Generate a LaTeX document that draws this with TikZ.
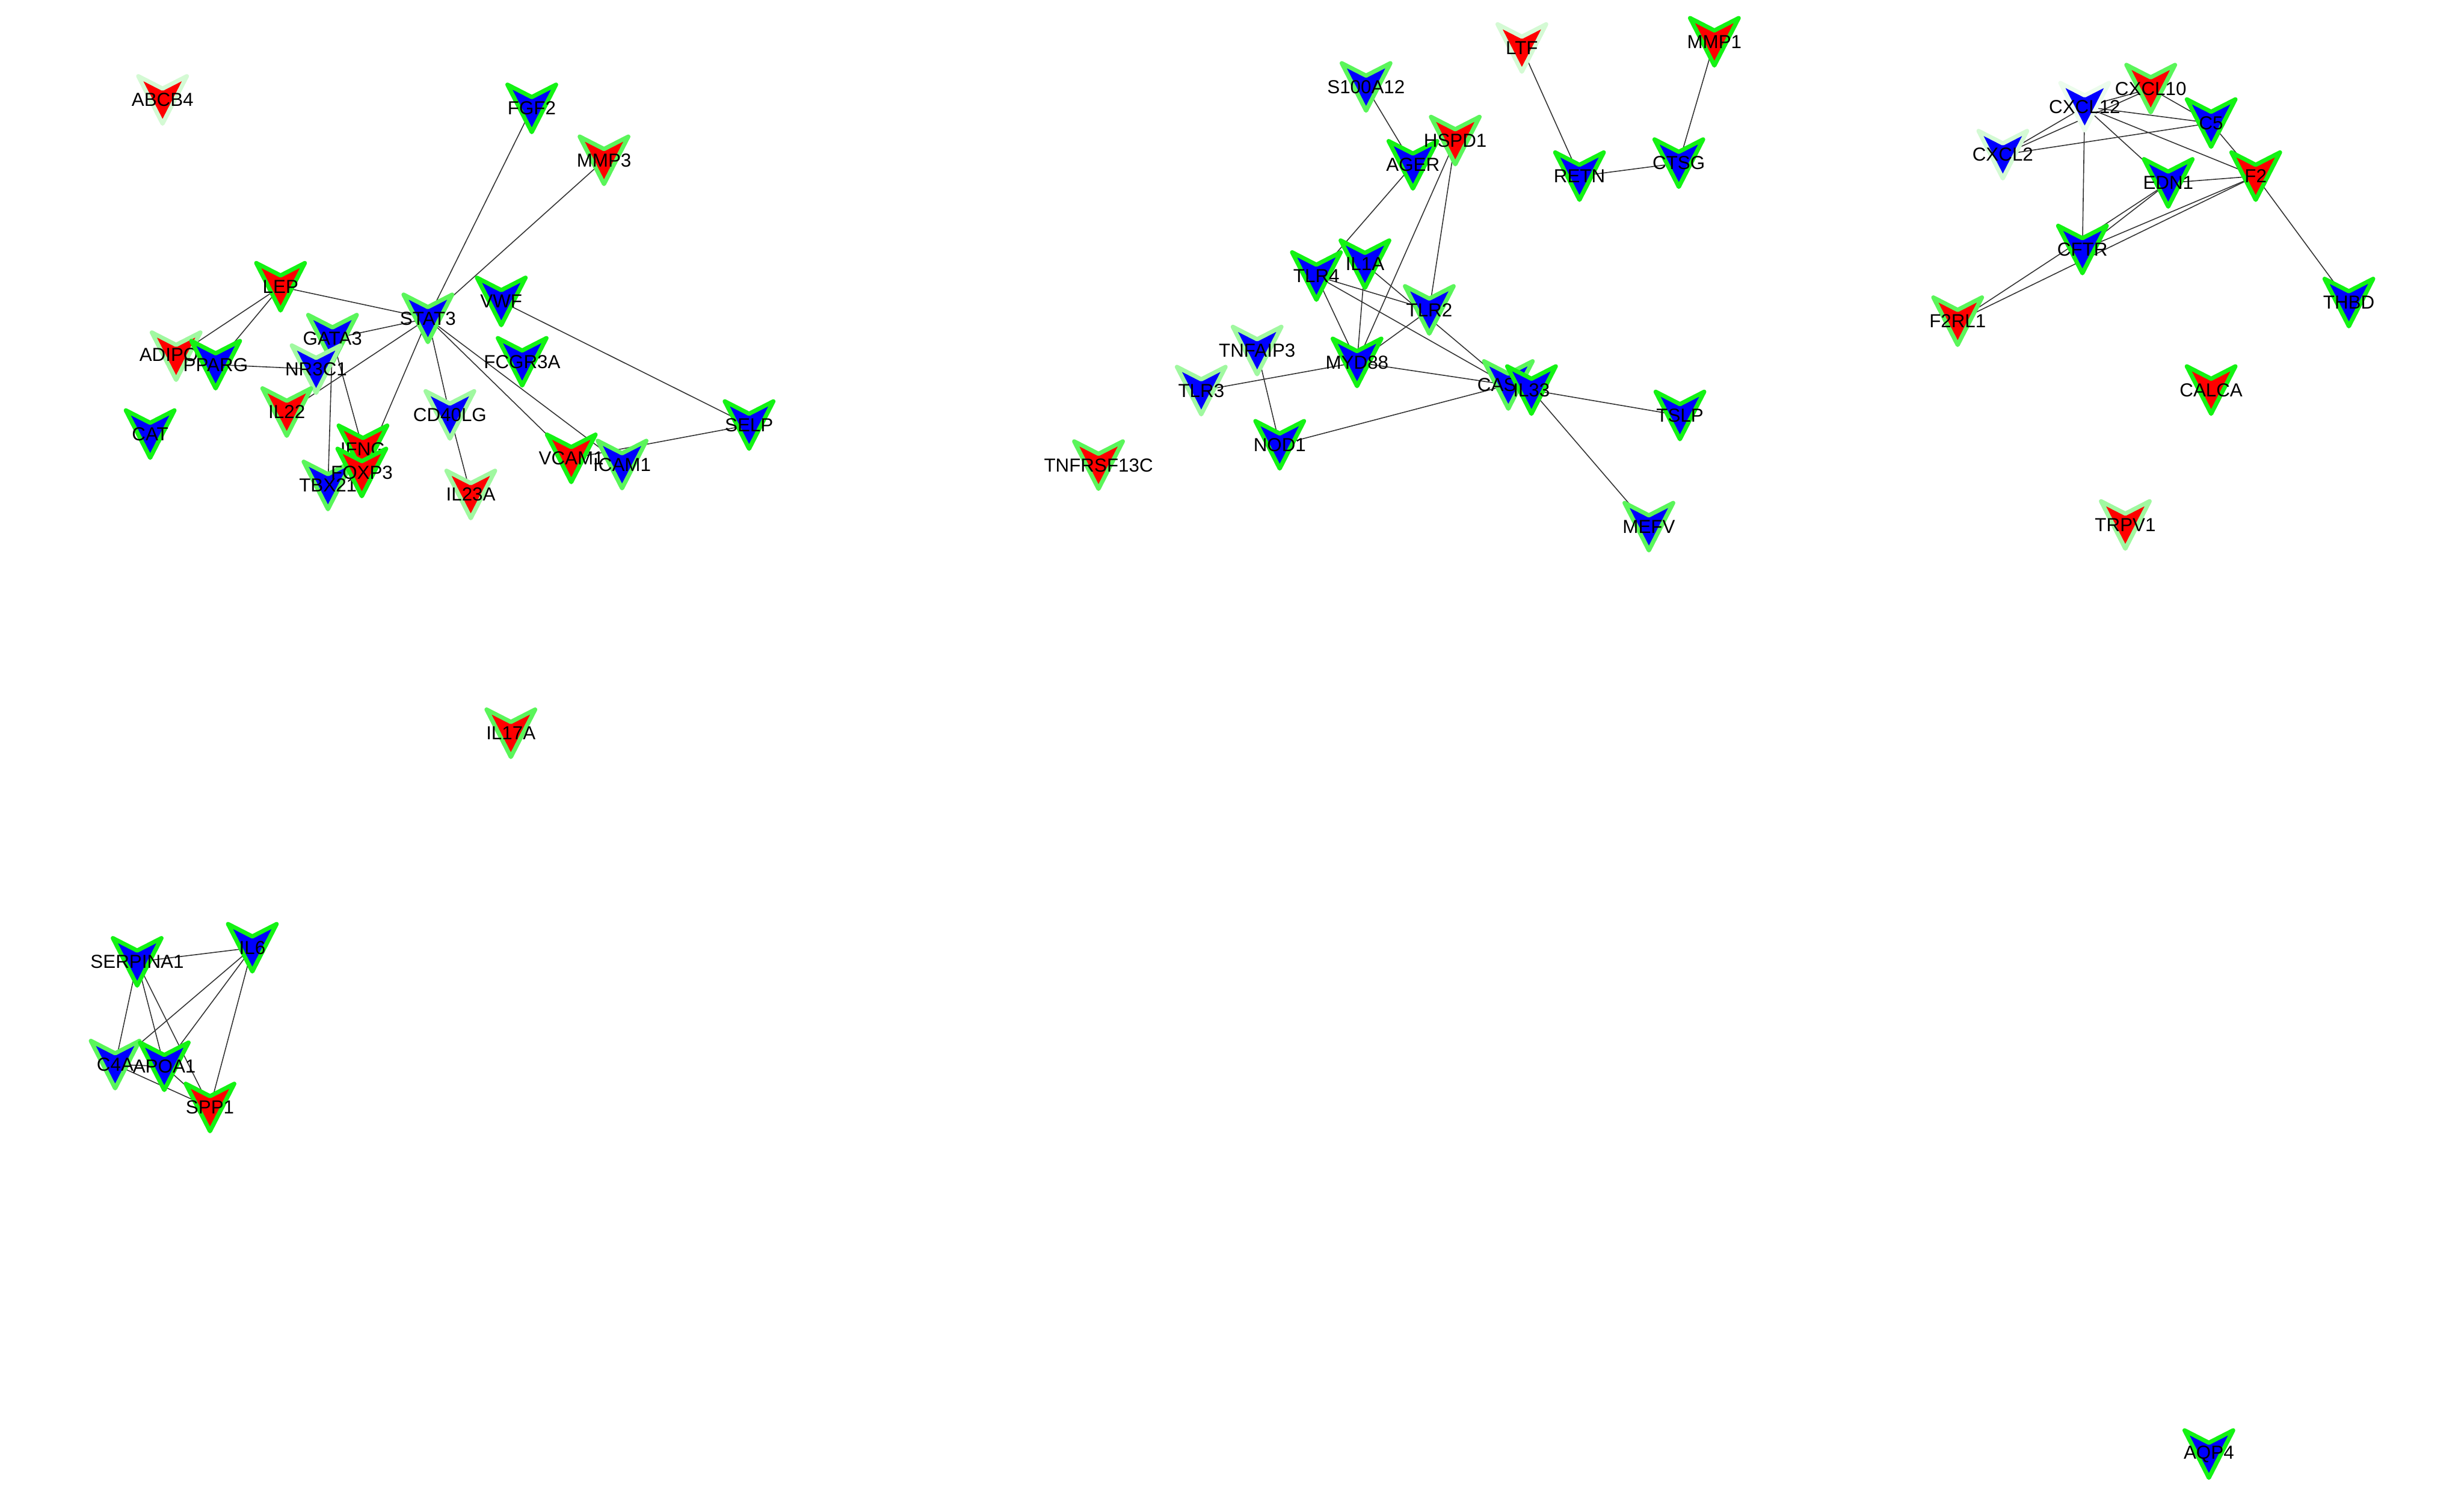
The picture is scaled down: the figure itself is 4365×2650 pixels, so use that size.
\documentclass[tikz,border=0pt]{standalone}
\usepackage{fontspec}
\setmainfont{Liberation Sans}
\usetikzlibrary{positioning}
\definecolor{rimhi}{RGB}{20,242,20}
\definecolor{rimmid}{RGB}{90,245,90}
\definecolor{rimlow}{RGB}{160,248,160}
\definecolor{rimpale}{RGB}{212,250,212}
\definecolor{rimwhite}{RGB}{236,252,236}
\definecolor{linkgray}{RGB}{52,52,52}
\tikzstyle{vee}=[line width=0.075cm,line join=round]
\tikzstyle{gname}=[inner sep=0pt,font=\fontsize{9.5}{11}\selectfont]
\tikzstyle{link}=[draw=linkgray,line width=0.017cm]
\pgfdeclarelayer{edges}
\pgfsetlayers{edges,main}
% chevron gene node: name, x, y, fill, rim
\newcommand{\gene}[5]{%
  \draw[vee,fill=#4,draw=#5] (#2,#3) ++(-43,-42) -- ++(43,22) -- ++(43,-22) -- ++(-43,84) -- cycle;
  \node[gname] (#1) at (#2,#3) {#1};}

\begin{document}
\begin{tikzpicture}[x=0.01cm,y=-0.01cm]
\useasboundingbox (0,0) rectangle (4365,2650);
% left network
\gene{ABCB4}{288}{177}{red}{rimpale}
\gene{FGF2}{942}{192}{blue}{rimhi}
\gene{MMP3}{1070}{284}{red}{rimmid}
\gene{LEP}{497}{508}{red}{rimhi}
\gene{STAT3}{758}{564}{blue}{rimmid}
\gene{VWF}{888}{534}{blue}{rimhi}
\gene{FCGR3A}{925}{641}{blue}{rimhi}
\gene{GATA3}{589}{600}{blue}{rimmid}
\gene{ADIPOQ}{312}{631}{red}{rimlow}
\gene{PPARG}{382}{646}{blue}{rimhi}
\gene{NR3C1}{560}{654}{blue}{rimlow}
\gene{IL22}{508}{730}{red}{rimmid}
\gene{CAT}{266}{769}{blue}{rimhi}
\gene{CD40LG}{797}{735}{blue}{rimlow}
\gene{IFNG}{643}{796}{red}{rimhi}
\gene{TBX21}{581}{860}{blue}{rimmid}
\gene{FOXP3}{641}{837}{red}{rimhi}
\gene{IL23A}{834}{876}{red}{rimlow}
\gene{VCAM1}{1012}{812}{red}{rimhi}
\gene{ICAM1}{1102}{823}{blue}{rimmid}
\gene{SELP}{1327}{753}{blue}{rimhi}
\gene{IL17A}{905}{1299}{red}{rimmid}
% middle network
\gene{S100A12}{2420}{154}{blue}{rimmid}
\gene{LTF}{2696}{85}{red}{rimpale}
\gene{MMP1}{3037}{74}{red}{rimhi}
\gene{AGER}{2503}{292}{blue}{rimhi}
\gene{HSPD1}{2578}{249}{red}{rimmid}
\gene{RETN}{2798}{312}{blue}{rimhi}
\gene{CTSG}{2974}{289}{blue}{rimhi}
\gene{IL1A}{2418}{468}{blue}{rimhi}
\gene{TLR4}{2332}{489}{blue}{rimhi}
\gene{TLR2}{2532}{549}{blue}{rimmid}
\gene{TNFAIP3}{2227}{621}{blue}{rimlow}
\gene{MYD88}{2404}{642}{blue}{rimhi}
\gene{TLR3}{2128}{692}{blue}{rimlow}
\gene{NOD1}{2267}{788}{blue}{rimhi}
\gene{CASP1}{2672}{682}{blue}{rimmid}
\gene{IL33}{2713}{691}{blue}{rimhi}
\gene{TSLP}{2976}{736}{blue}{rimhi}
\gene{MEFV}{2921}{933}{blue}{rimmid}
\gene{TNFRSF13C}{1946}{824}{red}{rimmid}
% right network
\gene{CXCL12}{3693}{189}{blue}{rimwhite}
\gene{CXCL10}{3810}{157}{red}{rimmid}
\gene{C5}{3917}{218}{blue}{rimhi}
\gene{CXCL2}{3548}{274}{blue}{rimpale}
\gene{F2}{3996}{312}{red}{rimhi}
\gene{EDN1}{3841}{324}{blue}{rimhi}
\gene{CFTR}{3689}{442}{blue}{rimhi}
\gene{F2RL1}{3468}{569}{red}{rimmid}
\gene{THBD}{4161}{536}{blue}{rimhi}
\gene{CALCA}{3917}{691}{red}{rimhi}
\gene{TRPV1}{3765}{930}{red}{rimlow}
\gene{AQP4}{3913}{2576}{blue}{rimhi}
% lower left network
\gene{SERPINA1}{243}{1704}{blue}{rimhi}
\gene{IL6}{447}{1679}{blue}{rimhi}
\gene{C4A}{204}{1886}{blue}{rimmid}
\gene{APOA1}{291}{1889}{blue}{rimhi}
\gene{SPP1}{372}{1962}{red}{rimhi}
% interactions
\begin{pgfonlayer}{edges}
\draw[link] (LEP.center) -- (STAT3.center);
\draw[link] (LEP.center) -- (ADIPOQ.center);
\draw[link] (LEP.center) -- (PPARG.center);
\draw[link] (PPARG.center) -- (NR3C1.center);
\draw[link] (STAT3.center) -- (FGF2.center);
\draw[link] (STAT3.center) -- (MMP3.center);
\draw[link] (STAT3.center) -- (GATA3.center);
\draw[link] (STAT3.center) -- (IL22.center);
\draw[link] (STAT3.center) -- (FOXP3.center);
\draw[link] (STAT3.center) -- (CD40LG.center);
\draw[link] (STAT3.center) -- (VCAM1.center);
\draw[link] (STAT3.center) -- (ICAM1.center);
\draw[link] (GATA3.center) -- (TBX21.center);
\draw[link] (GATA3.center) -- (IFNG.center);
\draw[link] (CD40LG.center) -- (IL23A.center);
\draw[link] (VWF.center) -- (SELP.center);
\draw[link] (SELP.center) -- (VCAM1.center);
\draw[link] (S100A12.center) -- (AGER.center);
\draw[link] (AGER.center) -- (TLR4.center);
\draw[link] (HSPD1.center) -- (MYD88.center);
\draw[link] (HSPD1.center) -- (TLR2.center);
\draw[link] (TLR4.center) -- (TLR2.center);
\draw[link] (TLR4.center) -- (MYD88.center);
\draw[link] (TLR4.center) -- (CASP1.center);
\draw[link] (IL1A.center) -- (MYD88.center);
\draw[link] (IL1A.center) -- (CASP1.center);
\draw[link] (TLR2.center) -- (MYD88.center);
\draw[link] (MYD88.center) -- (CASP1.center);
\draw[link] (MYD88.center) -- (TLR3.center);
\draw[link] (TNFAIP3.center) -- (NOD1.center);
\draw[link] (NOD1.center) -- (CASP1.center);
\draw[link] (IL33.center) -- (TSLP.center);
\draw[link] (IL33.center) -- (MEFV.center);
\draw[link] (LTF.center) -- (RETN.center);
\draw[link] (RETN.center) -- (CTSG.center);
\draw[link] (CTSG.center) -- (MMP1.center);
\draw[link] (CXCL2.center) -- (CXCL12.center);
\draw[link] (CXCL2.center) -- (CXCL10.center);
\draw[link] (CXCL2.center) -- (C5.center);
\draw[link] (CXCL12.center) -- (CXCL10.center);
\draw[link] (CXCL12.center) -- (C5.center);
\draw[link] (CXCL12.center) -- (F2.center);
\draw[link] (CXCL12.center) -- (EDN1.center);
\draw[link] (CXCL12.center) -- (CFTR.center);
\draw[link] (CXCL10.center) -- (C5.center);
\draw[link] (C5.center) -- (F2.center);
\draw[link] (EDN1.center) -- (F2.center);
\draw[link] (EDN1.center) -- (CFTR.center);
\draw[link] (EDN1.center) -- (F2RL1.center);
\draw[link] (F2.center) -- (CFTR.center);
\draw[link] (F2.center) -- (F2RL1.center);
\draw[link] (F2.center) -- (THBD.center);
\draw[link] (SERPINA1.center) -- (IL6.center);
\draw[link] (SERPINA1.center) -- (C4A.center);
\draw[link] (SERPINA1.center) -- (APOA1.center);
\draw[link] (SERPINA1.center) -- (SPP1.center);
\draw[link] (IL6.center) -- (C4A.center);
\draw[link] (IL6.center) -- (APOA1.center);
\draw[link] (IL6.center) -- (SPP1.center);
\draw[link] (C4A.center) -- (APOA1.center);
\draw[link] (C4A.center) -- (SPP1.center);
\draw[link] (APOA1.center) -- (SPP1.center);
\end{pgfonlayer}
\end{tikzpicture}
\end{document}
